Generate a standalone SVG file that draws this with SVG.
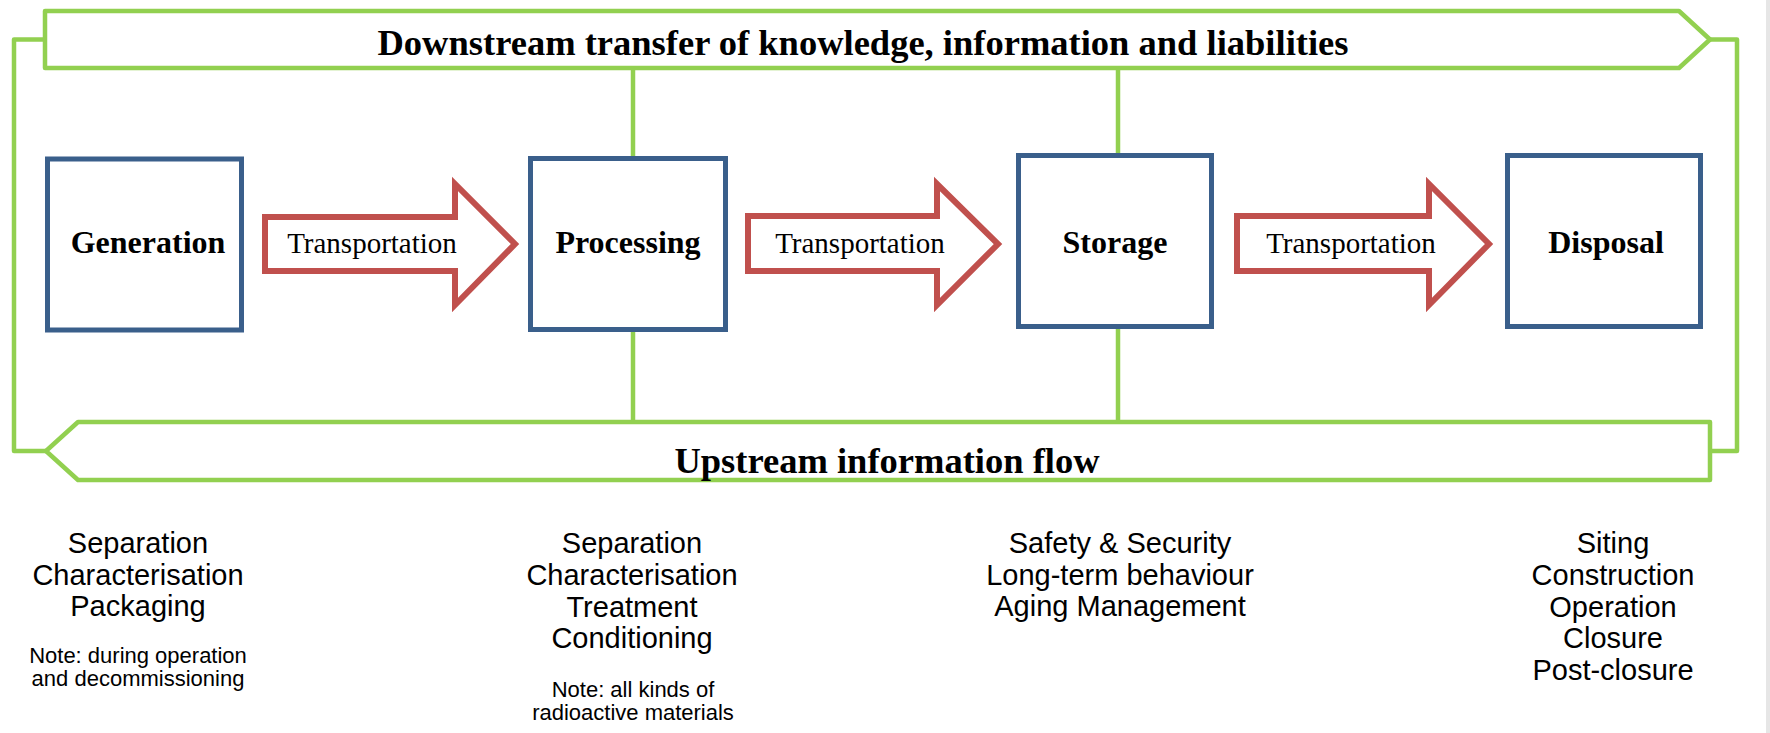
<svg xmlns="http://www.w3.org/2000/svg" width="1770" height="733" viewBox="0 0 1770 733">
  <style>
    .green { fill: none; stroke: #92D050; stroke-width: 4.5; stroke-linejoin: round; }
    .banner { fill: #FFFFFF; stroke: #92D050; stroke-width: 4.5; stroke-linejoin: round; }
    .box { fill: #FFFFFF; stroke: #3A5F8B; stroke-width: 5; }
    .arrow { fill: #FFFFFF; stroke: #C0504D; stroke-width: 6; stroke-linejoin: miter; }
    .title { font-family: "Liberation Serif", "Times New Roman", serif; font-weight: bold; font-size: 36.5px; fill: #000; text-anchor: middle; }
    .label { font-family: "Liberation Serif", "Times New Roman", serif; font-weight: bold; font-size: 32px; fill: #000; text-anchor: middle; }
    .trans { font-family: "Liberation Serif", "Times New Roman", serif; font-size: 29px; fill: #000; text-anchor: middle; }
    .task { font-family: "Liberation Sans", Arial, sans-serif; font-size: 29px; fill: #000; text-anchor: middle; }
    .note { font-family: "Liberation Sans", Arial, sans-serif; font-size: 22px; fill: #000; text-anchor: middle; }
  </style>
  <rect x="0" y="0" width="1770" height="733" fill="#FFFFFF"/>
  <rect x="1766" y="0" width="4" height="733" fill="#E6E6E6"/>

  <g id="connectors">
    <polyline class="green" points="45,39.5 14,39.5 14,451 46,451"/>
    <polyline class="green" points="1710,39.5 1737,39.5 1737,451 1710,451"/>
    <line class="green" x1="633" y1="68" x2="633" y2="158"/>
    <line class="green" x1="1118" y1="68" x2="1118" y2="155"/>
    <line class="green" x1="633" y1="330" x2="633" y2="426"/>
    <line class="green" x1="1118" y1="327" x2="1118" y2="422"/>
  </g>

  <g id="downstream">
    <polygon class="banner" points="45,11 1679,11 1710,39.5 1679,68 45,68"/>
    <text class="title" x="863" y="55">Downstream transfer of knowledge, information and liabilities</text>
  </g>

  <g id="upstream">
    <polygon class="banner" points="78,422 1710,422 1710,480 78,480 46,451"/>
    <text class="title" x="887" y="473">Upstream information flow</text>
  </g>

  <g id="generation">
    <rect class="box" x="47.5" y="159" width="194" height="171"/>
    <text class="label" x="148" y="253">Generation</text>
  </g>
  <g id="processing">
    <rect class="box" x="530.5" y="158.5" width="195" height="171"/>
    <text class="label" x="628" y="253">Processing</text>
  </g>
  <g id="storage">
    <rect class="box" x="1018.5" y="155.5" width="193" height="171"/>
    <text class="label" x="1115" y="253">Storage</text>
  </g>
  <g id="disposal">
    <rect class="box" x="1507.5" y="155.5" width="193" height="171"/>
    <text class="label" x="1606" y="253">Disposal</text>
  </g>

  <g id="transport1">
    <polygon class="arrow" points="265,217 455,217 455,184 515,244 455,305 455,271 265,271"/>
    <text class="trans" x="372" y="253">Transportation</text>
  </g>
  <g id="transport2">
    <polygon class="arrow" points="748,216 937,216 937,184 998,244 937,305 937,271 748,271"/>
    <text class="trans" x="860" y="253">Transportation</text>
  </g>
  <g id="transport3">
    <polygon class="arrow" points="1237,216 1429,216 1429,184 1489,244 1429,305 1429,271 1237,271"/>
    <text class="trans" x="1351" y="253">Transportation</text>
  </g>

  <g id="generation-tasks">
    <text class="task" x="138" y="553">Separation</text>
    <text class="task" x="138" y="585">Characterisation</text>
    <text class="task" x="138" y="616">Packaging</text>
    <text class="note" x="138" y="663">Note: during operation</text>
    <text class="note" x="138" y="686">and decommissioning</text>
  </g>
  <g id="processing-tasks">
    <text class="task" x="632" y="553">Separation</text>
    <text class="task" x="632" y="585">Characterisation</text>
    <text class="task" x="632" y="617">Treatment</text>
    <text class="task" x="632" y="648">Conditioning</text>
    <text class="note" x="633" y="697">Note: all kinds of</text>
    <text class="note" x="633" y="720">radioactive materials</text>
  </g>
  <g id="storage-tasks">
    <text class="task" x="1120" y="553">Safety &amp; Security</text>
    <text class="task" x="1120" y="585">Long-term behaviour</text>
    <text class="task" x="1120" y="616">Aging Management</text>
  </g>
  <g id="disposal-tasks">
    <text class="task" x="1613" y="553">Siting</text>
    <text class="task" x="1613" y="585">Construction</text>
    <text class="task" x="1613" y="617">Operation</text>
    <text class="task" x="1613" y="648">Closure</text>
    <text class="task" x="1613" y="680">Post-closure</text>
  </g>
</svg>
